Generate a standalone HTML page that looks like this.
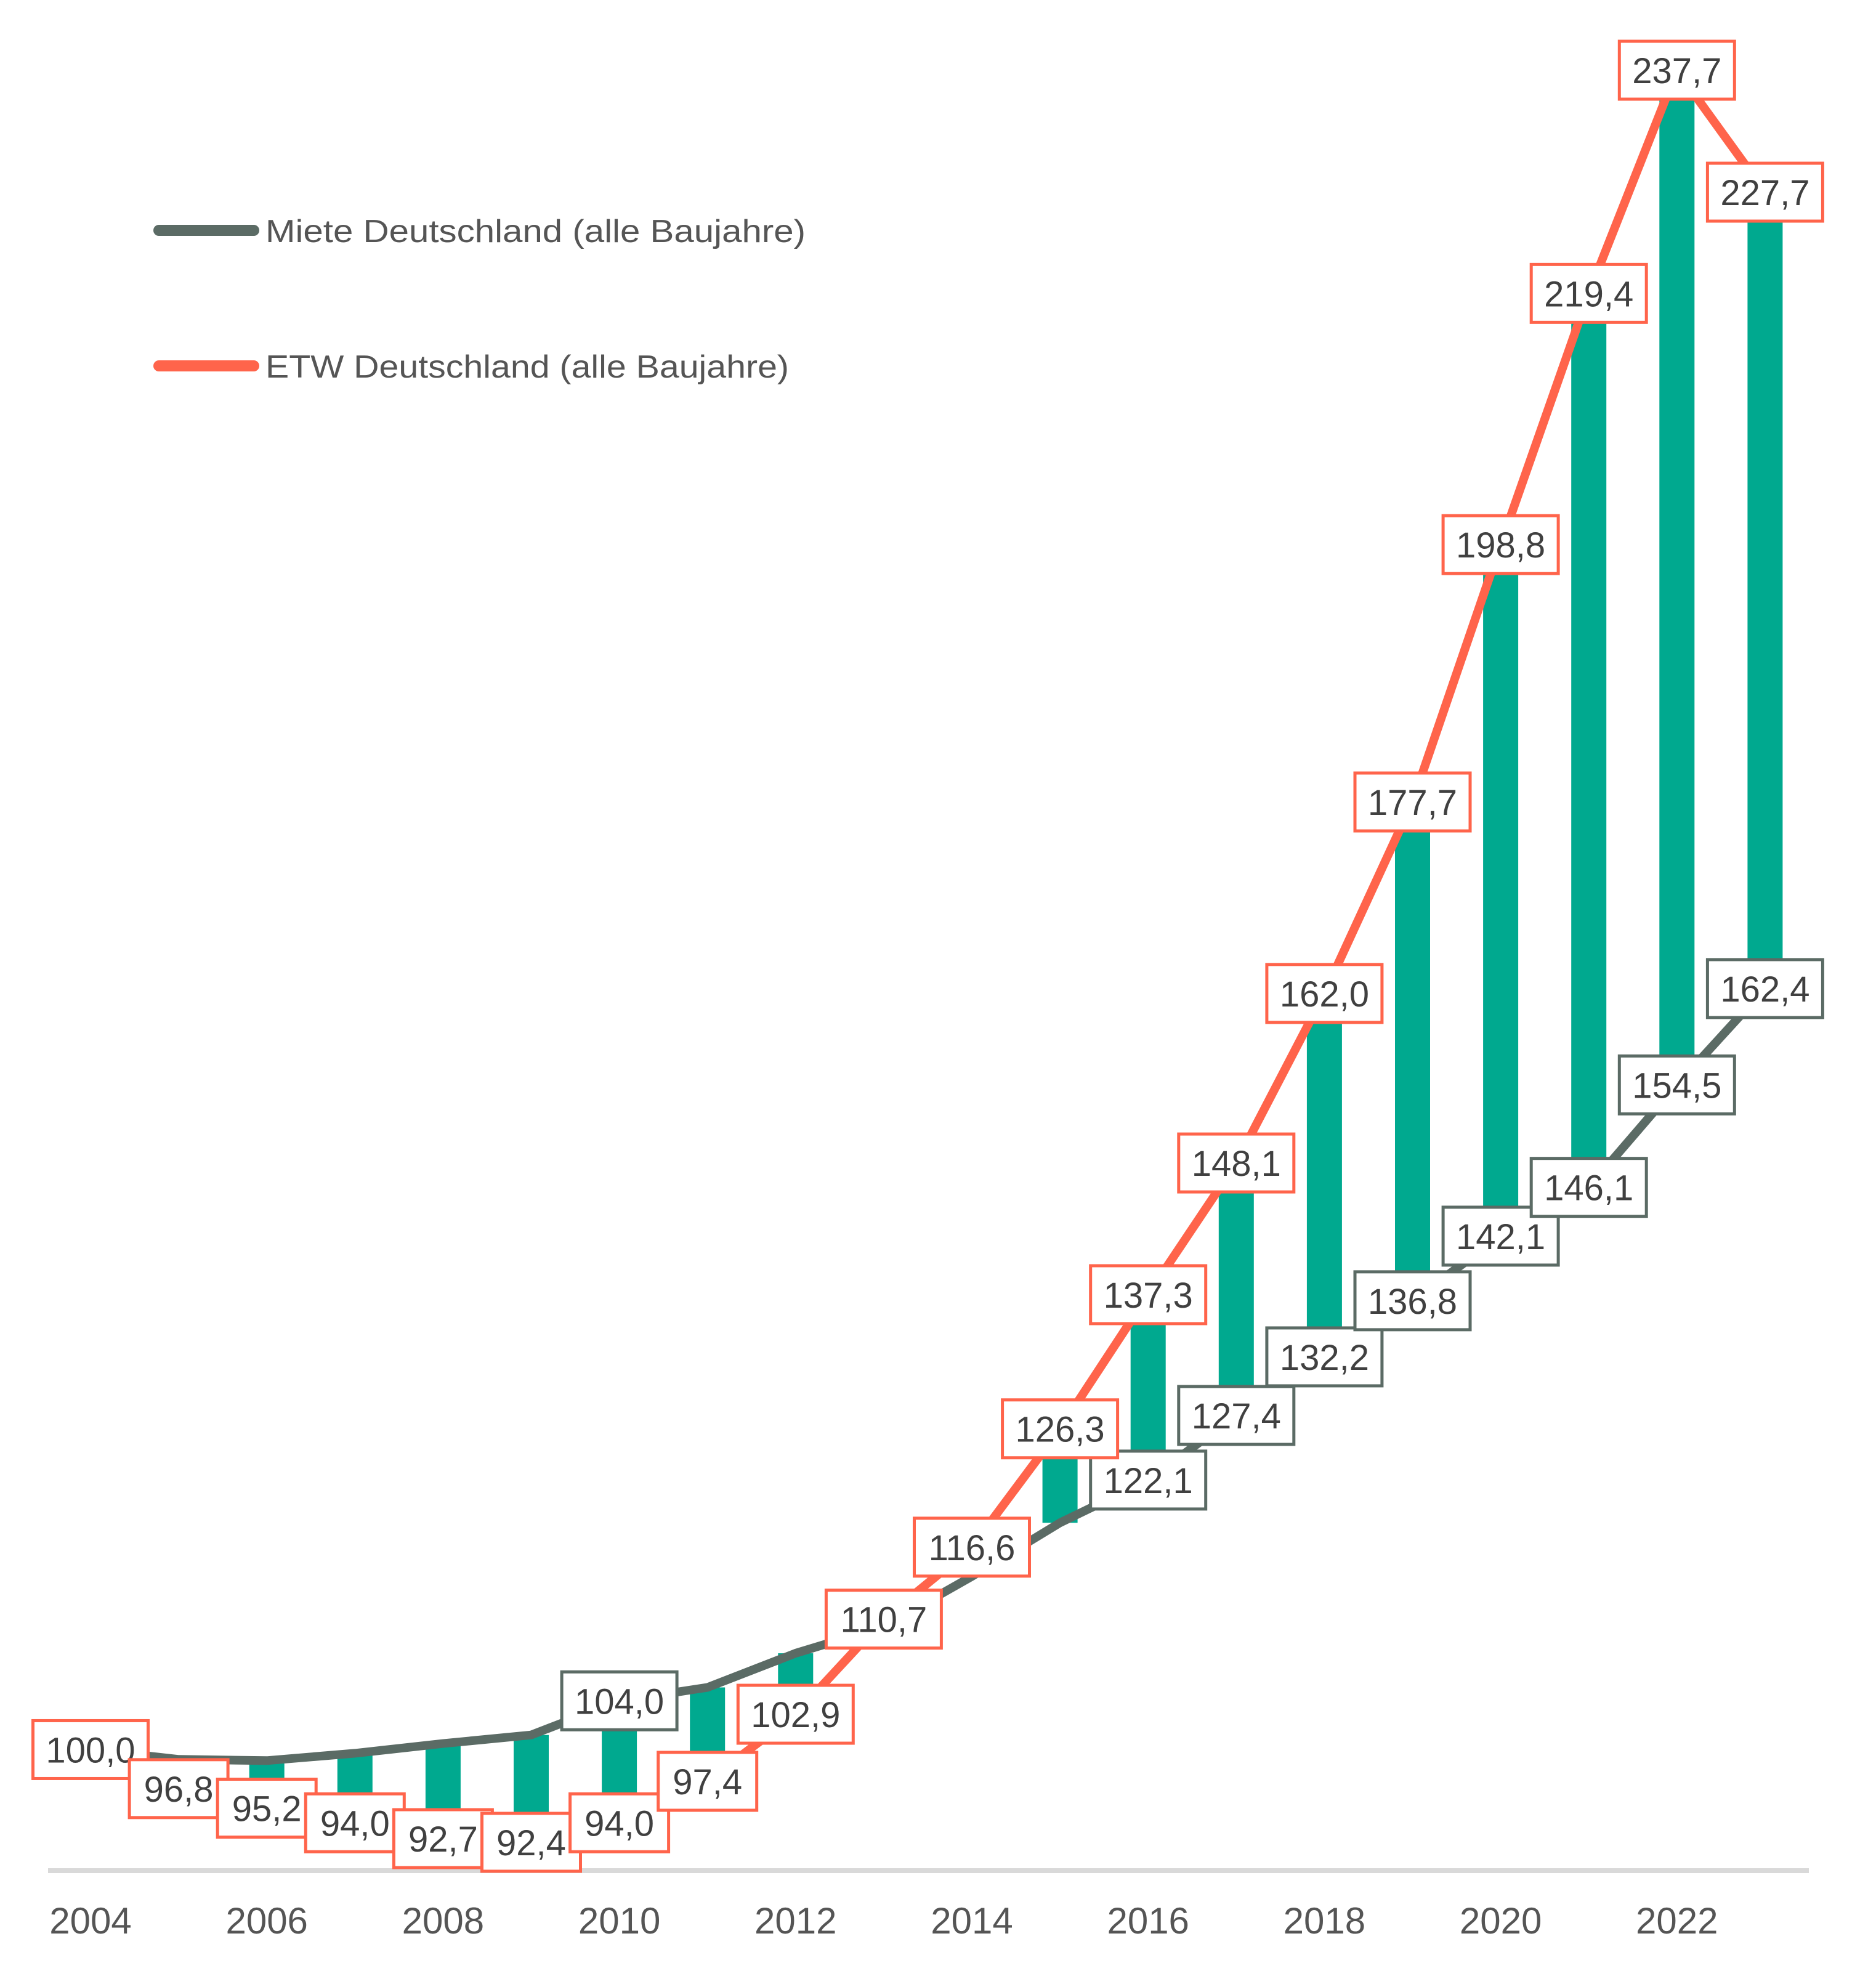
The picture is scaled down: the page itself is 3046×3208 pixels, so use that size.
<!DOCTYPE html>
<html><head><meta charset="utf-8"><style>
html,body{margin:0;padding:0;background:#fff;}
svg{display:block;}
text{font-family:"Liberation Sans",Arial,sans-serif;}
</style></head><body>
<svg id="c" width="3046" height="3208" viewBox="0 0 3046 3208" xmlns="http://www.w3.org/2000/svg">
<rect width="3046" height="3208" fill="#fff"/>
<line x1="78" y1="3037" x2="2937" y2="3037" stroke="#d9d9d9" stroke-width="8"/>
<line x1="258" y1="374" x2="412" y2="374" stroke="#5b6b65" stroke-width="18" stroke-linecap="round"/>
<text x="431" y="393" font-size="52" fill="#555" textLength="877" lengthAdjust="spacingAndGlyphs">Miete Deutschland (alle Baujahre)</text>
<line x1="258" y1="594" x2="412" y2="594" stroke="#ff644b" stroke-width="18" stroke-linecap="round"/>
<text x="431" y="613" font-size="52" fill="#555" textLength="850" lengthAdjust="spacingAndGlyphs">ETW Deutschland (alle Baujahre)</text>
<g id="g"></g>
</svg>
<script>
var etw=[100,96.8,95.2,94.0,92.7,92.4,94.0,97.4,102.9,110.7,116.6,126.3,137.3,148.1,162.0,177.7,198.8,219.4,237.7,227.7];
var mie=[100,99.2,99.1,99.7,100.5,101.2,104.0,105.1,107.9,110.1,114.2,118.6,122.1,127.4,132.2,136.8,142.1,146.1,154.5,162.4];
var mLab={6:1,12:1,13:1,14:1,15:1,16:1,17:1,18:1,19:1};
function X(i){return 147+143.1*i;}
function Y(v){return 114+(237.7-v)*19.8;}
var s='';
for(var i=1;i<20;i++){var a=Y(etw[i]),b=Y(mie[i]);if(Math.abs(a-b)<4)continue;
s+='<rect x="'+(X(i)-28.5)+'" y="'+Math.min(a,b)+'" width="57" height="'+Math.abs(a-b)+'" fill="#00a98f"/>';}
function pl(d,c){var p=[];for(var i=0;i<d.length;i++)p.push(X(i).toFixed(1)+','+Y(d[i]).toFixed(1));return '<polyline points="'+p.join(' ')+'" fill="none" stroke="'+c+'" stroke-width="14" stroke-linejoin="round"/>';}
s+=pl(mie,'#5b6b65');s+=pl(etw,'#ff644b');
function fmt(v){return v.toFixed(1).replace('.',',');}
function box(i,v,c){var t=fmt(v),w=t.length>=5?187:160,h=94,cx=X(i),cy=Y(v);
return '<rect x="'+(cx-w/2)+'" y="'+(cy-h/2)+'" width="'+w+'" height="'+h+'" fill="#fff" stroke="'+c+'" stroke-width="5"/>'+
'<text x="'+cx+'" y="'+(cy+21)+'" font-size="58" fill="#404040" text-anchor="middle">'+t+'</text>';}
for(var i=0;i<20;i++){if(mLab[i]||i==6)s+=box(i,mie[i],'#5b6b65');}
for(var i=0;i<20;i++)s+=box(i,etw[i],'#ff644b');
for(var y=2004;y<=2022;y+=2)s+='<text x="'+X(y-2004)+'" y="3139" font-size="60" fill="#555" text-anchor="middle">'+y+'</text>';
document.getElementById('g').innerHTML=s;
</script>
</body></html>
